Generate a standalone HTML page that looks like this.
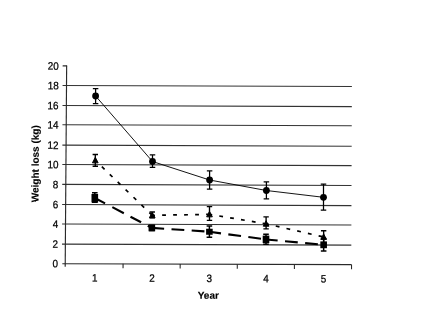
<!DOCTYPE html>
<html><head><meta charset="utf-8"><title>Weight loss by year</title>
<style>
html,body{margin:0;padding:0;background:#fff;}
body{width:440px;height:330px;overflow:hidden;}
svg{display:block;}
text{font-family:"Liberation Sans",Arial,sans-serif;fill:#000;}
.n{font-size:10.4px;stroke:#000;stroke-width:0.25px;}
.b{font-size:10px;font-weight:bold;stroke:#000;stroke-width:0.15px;}
</style></head><body>
<svg width="440" height="330" viewBox="0 0 440 330">
<rect width="440" height="330" fill="#fff"/>
<g transform="rotate(0.21 208.5 165)">
<line x1="62.3" y1="244.65" x2="351.6" y2="244.65" stroke="#333" stroke-width="1.1"/>
<line x1="62.3" y1="224.50" x2="351.6" y2="224.50" stroke="#333" stroke-width="1.1"/>
<line x1="62.3" y1="205.10" x2="351.6" y2="205.10" stroke="#333" stroke-width="1.1"/>
<line x1="62.3" y1="184.95" x2="351.6" y2="184.95" stroke="#333" stroke-width="1.1"/>
<line x1="62.3" y1="165.10" x2="351.6" y2="165.10" stroke="#333" stroke-width="1.1"/>
<line x1="62.3" y1="145.70" x2="351.6" y2="145.70" stroke="#333" stroke-width="1.1"/>
<line x1="62.3" y1="125.30" x2="351.6" y2="125.30" stroke="#333" stroke-width="1.1"/>
<line x1="62.3" y1="106.10" x2="351.6" y2="106.10" stroke="#333" stroke-width="1.1"/>
<line x1="62.3" y1="86.00" x2="351.6" y2="86.00" stroke="#333" stroke-width="1.1"/>
<line x1="62.3" y1="66.45" x2="66.7" y2="66.45" stroke="#2a2a2a" stroke-width="1.2"/>
<text class="n" transform="translate(58.4 267.90) scale(0.95 1.03)" text-anchor="end">0</text>
<text class="n" transform="translate(58.4 248.40) scale(0.95 1.03)" text-anchor="end">2</text>
<text class="n" transform="translate(58.4 228.25) scale(0.95 1.03)" text-anchor="end">4</text>
<text class="n" transform="translate(58.4 208.85) scale(0.95 1.03)" text-anchor="end">6</text>
<text class="n" transform="translate(58.4 188.70) scale(0.95 1.03)" text-anchor="end">8</text>
<text class="n" transform="translate(58.4 168.85) scale(0.95 1.03)" text-anchor="end">10</text>
<text class="n" transform="translate(58.4 149.45) scale(0.95 1.03)" text-anchor="end">12</text>
<text class="n" transform="translate(58.4 129.05) scale(0.95 1.03)" text-anchor="end">14</text>
<text class="n" transform="translate(58.4 109.85) scale(0.95 1.03)" text-anchor="end">16</text>
<text class="n" transform="translate(58.4 89.75) scale(0.95 1.03)" text-anchor="end">18</text>
<text class="n" transform="translate(58.4 70.20) scale(0.95 1.03)" text-anchor="end">20</text>
<line x1="123.42" y1="264.15" x2="123.42" y2="268.65" stroke="#2a2a2a" stroke-width="1.1"/>
<line x1="180.54" y1="264.15" x2="180.54" y2="268.65" stroke="#2a2a2a" stroke-width="1.1"/>
<line x1="237.66" y1="264.15" x2="237.66" y2="268.65" stroke="#2a2a2a" stroke-width="1.1"/>
<line x1="294.78" y1="264.15" x2="294.78" y2="268.65" stroke="#2a2a2a" stroke-width="1.1"/>
<line x1="351.90" y1="264.15" x2="351.90" y2="268.65" stroke="#2a2a2a" stroke-width="1.1"/>
<text class="n" transform="translate(95.1 282) scale(0.95 1.03)" text-anchor="middle">1</text>
<text class="n" transform="translate(152.3 282) scale(0.95 1.03)" text-anchor="middle">2</text>
<text class="n" transform="translate(209.7 282) scale(0.95 1.03)" text-anchor="middle">3</text>
<text class="n" transform="translate(266.3 282) scale(0.95 1.03)" text-anchor="middle">4</text>
<text class="n" transform="translate(323.9 282) scale(0.95 1.03)" text-anchor="middle">5</text>
<text class="b" x="208.8" y="298.8" text-anchor="middle">Year</text>
<text class="b" transform="translate(38.7 164.4) rotate(-90)" text-anchor="middle">Weight loss (kg)</text>
</g>
<line x1="62.3" y1="263.72" x2="351.6" y2="264.58" stroke="#2a2a2a" stroke-width="1.1"/>
<line x1="66.65" y1="65.8" x2="65.2" y2="266.7" stroke="#2a2a2a" stroke-width="1.15"/>
<polyline points="95.6,96 152.5,161.5 209.6,180 266.4,190.5 323.5,197.3" fill="none" stroke="#000" stroke-width="0.92"/>
<line x1="95.3" y1="160.4" x2="152.25" y2="215.3" stroke="#000" stroke-width="1.7" stroke-dasharray="3.8 7.2" stroke-dashoffset="1.9"/>
<line x1="152.25" y1="215.3" x2="209.5" y2="214.4" stroke="#000" stroke-width="1.7" stroke-dasharray="3.8 7.2" stroke-dashoffset="1.1"/>
<line x1="209.5" y1="214.4" x2="266.1" y2="223.8" stroke="#000" stroke-width="1.7" stroke-dasharray="3.8 7.2" stroke-dashoffset="1.1"/>
<line x1="266.1" y1="223.8" x2="323.65" y2="237" stroke="#000" stroke-width="1.7" stroke-dasharray="3.8 7.2" stroke-dashoffset="1.1"/>
<line x1="94.8" y1="198" x2="151.85" y2="227.9" stroke="#000" stroke-width="2.1" stroke-dasharray="11.6 8.2 13 7.5 12 7.5 13 7.5" stroke-dashoffset="0"/>
<line x1="151.85" y1="227.9" x2="209.4" y2="231.75" stroke="#000" stroke-width="2.1" stroke-dasharray="12.8 7.4" stroke-dashoffset="0.5"/>
<line x1="209.4" y1="231.75" x2="266" y2="239.5" stroke="#000" stroke-width="2.1" stroke-dasharray="12.8 7.4" stroke-dashoffset="1.1"/>
<line x1="266" y1="239.5" x2="323.65" y2="244.8" stroke="#000" stroke-width="2.1" stroke-dasharray="12.8 7.4" stroke-dashoffset="1.1"/>
<path d="M95.6 88.5V103.5M92.85 88.5H98.35M92.85 103.5H98.35" stroke="#000" stroke-width="1.25" fill="none"/>
<path d="M152.5 154.75V167.25M149.75 154.75H155.25M149.75 167.25H155.25" stroke="#000" stroke-width="1.25" fill="none"/>
<path d="M209.6 170.75V189M206.85 170.75H212.35M206.85 189H212.35" stroke="#000" stroke-width="1.25" fill="none"/>
<path d="M266.4 181.9V198.75M263.65 181.9H269.15M263.65 198.75H269.15" stroke="#000" stroke-width="1.25" fill="none"/>
<path d="M323.5 184.1V210.2M320.75 184.1H326.25M320.75 210.2H326.25" stroke="#000" stroke-width="1.25" fill="none"/>
<path d="M95.3 154.5V166.2M92.6 154.5H98.0M92.6 166.2H98.0" stroke="#000" stroke-width="1.35" fill="none"/>
<path d="M152.25 212.0V217.8M149.55 212.0H154.95M149.55 217.8H154.95" stroke="#000" stroke-width="1.35" fill="none"/>
<path d="M209.5 206.6V220.3M206.8 206.6H212.2M206.8 220.3H212.2" stroke="#000" stroke-width="1.35" fill="none"/>
<path d="M266.1 216.9V228.9M263.40000000000003 216.9H268.8M263.40000000000003 228.9H268.8" stroke="#000" stroke-width="1.35" fill="none"/>
<path d="M323.65 230.7V243.5M320.95 230.7H326.34999999999997M320.95 243.5H326.34999999999997" stroke="#000" stroke-width="1.35" fill="none"/>
<path d="M94.8 192.7V202.2M92.0 192.7H97.6M92.0 202.2H97.6" stroke="#000" stroke-width="1.5" fill="none"/>
<path d="M151.85 225.5V230.5M149.04999999999998 225.5H154.65M149.04999999999998 230.5H154.65" stroke="#000" stroke-width="1.5" fill="none"/>
<path d="M209.4 226V237.3M206.6 226H212.20000000000002M206.6 237.3H212.20000000000002" stroke="#000" stroke-width="1.5" fill="none"/>
<path d="M266 234.3V244.2M263.2 234.3H268.8M263.2 244.2H268.8" stroke="#000" stroke-width="1.5" fill="none"/>
<path d="M323.65 238.5V250.9M320.84999999999997 238.5H326.45M320.84999999999997 250.9H326.45" stroke="#000" stroke-width="1.5" fill="none"/>
<circle cx="95.6" cy="96" r="3.4" fill="#000"/>
<circle cx="152.5" cy="161.5" r="3.4" fill="#000"/>
<circle cx="209.6" cy="180" r="3.4" fill="#000"/>
<circle cx="266.4" cy="190.5" r="3.4" fill="#000"/>
<circle cx="323.5" cy="197.3" r="3.4" fill="#000"/>
<polygon points="95.3,157.3 98.14999999999999,162.85 92.45,162.85" fill="#000" stroke="#000" stroke-width="0.95" stroke-linejoin="round"/>
<polygon points="152.25,212.20000000000002 155.1,217.75 149.4,217.75" fill="#000" stroke="#000" stroke-width="0.95" stroke-linejoin="round"/>
<polygon points="209.5,211.3 212.35,216.85 206.65,216.85" fill="#000" stroke="#000" stroke-width="0.95" stroke-linejoin="round"/>
<polygon points="266.1,220.70000000000002 268.95000000000005,226.25 263.25,226.25" fill="#000" stroke="#000" stroke-width="0.95" stroke-linejoin="round"/>
<polygon points="323.65,233.9 326.5,239.45 320.79999999999995,239.45" fill="#000" stroke="#000" stroke-width="0.95" stroke-linejoin="round"/>
<rect x="91.5" y="194.0" width="6.6" height="8.5" fill="#000"/>
<rect x="148.54999999999998" y="224.5" width="6.6" height="6.8" fill="#000"/>
<rect x="206.1" y="228.75" width="6.6" height="6.0" fill="#000"/>
<rect x="262.7" y="235.6" width="6.6" height="7.5" fill="#000"/>
<rect x="320.34999999999997" y="241.4" width="6.6" height="6.8" fill="#000"/>
</svg></body></html>
